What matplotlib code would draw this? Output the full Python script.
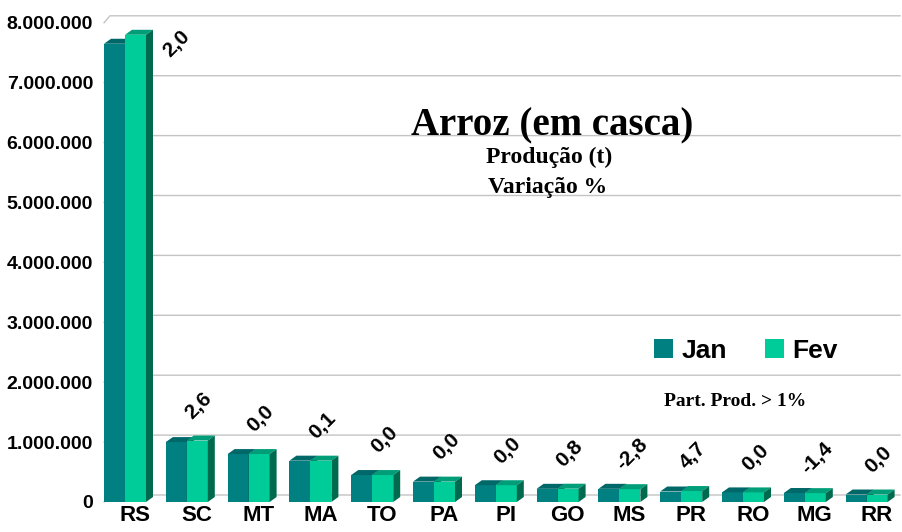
import matplotlib
matplotlib.use("Agg")
import matplotlib.pyplot as plt
from matplotlib.patches import Polygon, Patch
from matplotlib.transforms import ScaledTranslation

# ---------------- data ----------------
categories = ["RS", "SC", "MT", "MA", "TO", "PA", "PI", "GO", "MS", "PR", "RO", "MG", "RR"]
jan = [7650000, 1000000, 800000, 690000, 450000, 340000, 280000, 220000, 220000, 175000, 160000, 150000, 125000]
fev = [7800000, 1026000, 800000, 690000, 450000, 340000, 280000, 222000, 214000, 183000, 160000, 148000, 125000]
variacao = ["2,0", "2,6", "0,0", "0,1", "0,0", "0,0", "0,0", "0,8", "-2,8", "4,7", "0,0", "-1,4", "0,0"]
yticks = [0, 1000000, 2000000, 3000000, 4000000, 5000000, 6000000, 7000000, 8000000]
ytick_labels = ["0", "1.000.000", "2.000.000", "3.000.000", "4.000.000",
                "5.000.000", "6.000.000", "7.000.000", "8.000.000"]
series_names = ["Jan", "Fev"]

# ---------------- style ----------------
W, H = 902, 532
DPI = 100
PX_CAT = 61.8          # pixels per category
PX_M = 59.9            # pixels per 1,000,000
jan_front, jan_top = "#008080", "#006868"
fev_front, fev_top, side_col = "#00CC99", "#009E78", "#006A4E"
grid_col = "#C4C4C4"
SANS = "Liberation Sans"
SERIF = "Liberation Serif"

fig = plt.figure(figsize=(W / DPI, H / DPI), dpi=DPI)
left_px, right_px, base_px, top_px = 100, 902, 502, 5
ax = fig.add_axes([left_px / W, (H - base_px) / H, (right_px - left_px) / W, (base_px - top_px) / H])
x0_px = 125  # pixel of first category group center
ax.set_xlim((left_px - x0_px) / PX_CAT, (right_px - x0_px) / PX_CAT)
ymax = (base_px - top_px) / PX_M * 1e6
ax.set_ylim(0, ymax)
for s in ax.spines.values():
    s.set_visible(False)

bw = 21 / PX_CAT           # bar width (category units)
dx = 7 / PX_CAT            # depth x
dy = 5 / PX_M * 1e6        # depth y
gdx = 6 / PX_CAT
gdy = 7 / PX_M * 1e6

# back-wall gridlines with small left-wall diagonal
xl = (104 - x0_px) / PX_CAT
xr = (900 - x0_px) / PX_CAT
for v in yticks:
    ax.plot([xl, xl + gdx, xr], [v, v + gdy, v + gdy], color=grid_col, lw=1.0, zorder=1,
            solid_joinstyle="miter", clip_on=False)

def draw_bar(xa, h, front, top, zo):
    xb = xa + bw
    ax.add_patch(Polygon([(xa, 0), (xb, 0), (xb, h), (xa, h)], closed=True,
                         facecolor=front, edgecolor="none", zorder=zo))
    ax.add_patch(Polygon([(xa, h), (xb, h), (xb + dx, h + dy), (xa + dx, h + dy)], closed=True,
                         facecolor=top, edgecolor="none", zorder=zo))
    ax.add_patch(Polygon([(xb, 0), (xb + dx, dy), (xb + dx, h + dy), (xb, h)], closed=True,
                         facecolor=side_col, edgecolor="none", zorder=zo))

for i in range(len(categories)):
    draw_bar(i - bw, jan[i], jan_front, jan_top, 3 + i * 2)
    draw_bar(i, fev[i], fev_front, fev_top, 4 + i * 2)

# variation labels
off_y = 35 / PX_M * 1e6
limit = ymax - 0.7e6
for i, lab in enumerate(variacao):
    top = max(jan[i], fev[i])
    ty = top + off_y
    tx = i + 12 / PX_CAT
    if ty > limit:
        ty = min(jan[i], fev[i])
        tx = i + 52 / PX_CAT
    ax.text(tx, ty, lab, rotation=45, ha="center", va="center", rotation_mode="anchor",
            fontsize=15, fontweight="bold", family=SANS, color="black", zorder=50)

# axes ticks
ax.set_yticks(yticks)
ax.set_yticklabels(ytick_labels, fontsize=14, fontweight="bold", family=SANS)
ax.set_xticks(range(len(categories)))
ax.set_xticklabels(categories, fontsize=16, fontweight="bold", family=SANS)
ax.tick_params(axis="both", length=0)
ax.tick_params(axis="y", pad=5)
ax.tick_params(axis="x", pad=2)
for lab in ax.get_xticklabels():
    lab.set_transform(lab.get_transform() + ScaledTranslation(10 / DPI, 0, fig.dpi_scale_trans))

# titles
fig.text(552 / W, 1 - 135 / H, "Arroz (em casca)", family=SERIF, fontweight="bold",
         fontsize=28, ha="center", va="baseline")
fig.text(549 / W, 1 - 163 / H, "Produção (t)", family=SERIF, fontweight="bold",
         fontsize=17, ha="center", va="baseline")
fig.text(548 / W, 1 - 193 / H, "Variação %", family=SERIF, fontweight="bold",
         fontsize=17, ha="center", va="baseline")
fig.text(735 / W, 1 - 406 / H, "Part. Prod. > 1%", family=SERIF, fontweight="bold",
         fontsize=14, ha="center", va="baseline")

# legend
handles = [Patch(facecolor=jan_front, edgecolor="none", label=series_names[0]),
           Patch(facecolor=fev_front, edgecolor="none", label=series_names[1])]
leg = ax.legend(handles=handles, ncol=2, loc="center", frameon=False,
                bbox_to_anchor=(746 / W, 1 - 350.5 / H), bbox_transform=fig.transFigure,
                prop={"family": SANS, "weight": "bold", "size": 19},
                handlelength=0.72, handleheight=0.72, handletextpad=0.32,
                columnspacing=1.44, borderpad=0, borderaxespad=0)

fig.savefig("out.png", dpi=DPI)
